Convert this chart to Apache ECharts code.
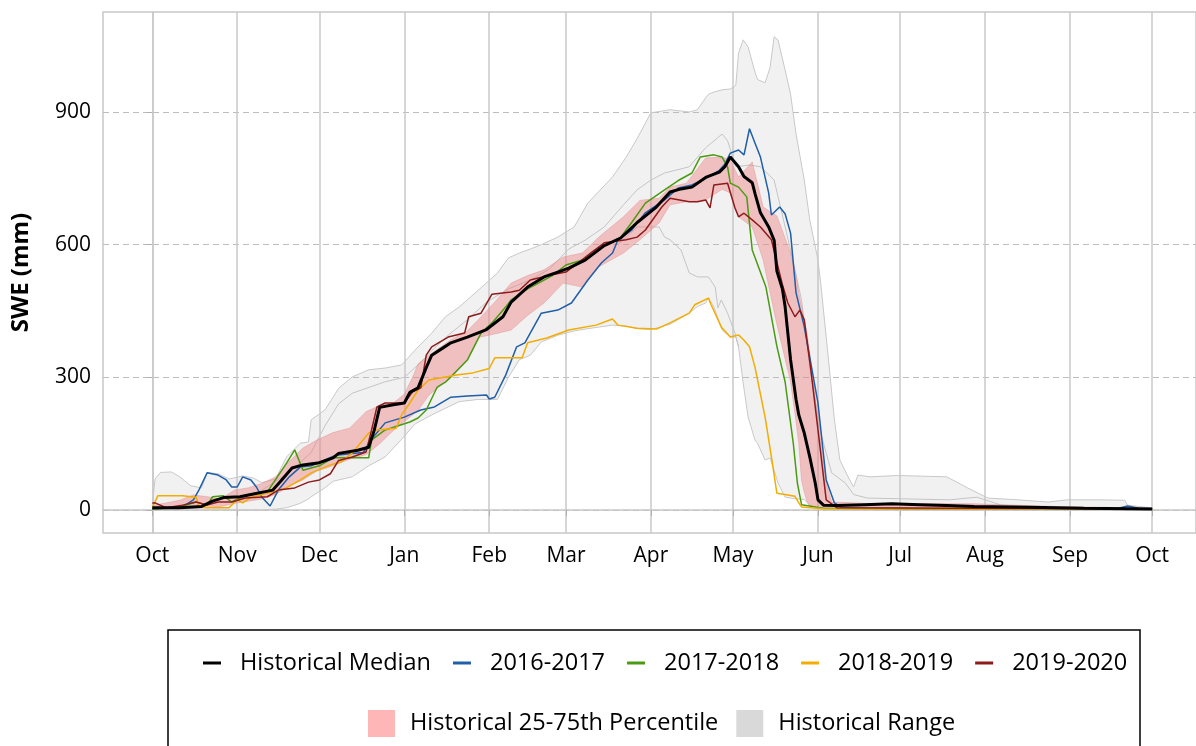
<!DOCTYPE html>
<html>
<head>
<meta charset="utf-8">
<title>SWE</title>
<script src="https://cdn.jsdelivr.net/npm/echarts@6/dist/echarts.min.js"></script>
<style>
  html, body { margin: 0; padding: 0; background: #fff; }
  #chart { width: 1196px; height: 746px; }
</style>
</head>
<body>
<div id="chart"></div>
<script>
// x = day of water year (0 = Oct 1), y = SWE in mm
const monthTicks = [0, 31, 61, 92, 123, 151, 182, 212, 243, 273, 304, 335, 365]
const monthLabels = ['Oct', 'Nov', 'Dec', 'Jan', 'Feb', 'Mar', 'Apr', 'May', 'Jun', 'Jul', 'Aug', 'Sep', 'Oct']
const sweTicks = [0, 300, 600, 900]

// [day, min, max]
const histRange = [
  [0, 0, 10], [1, 0, 70], [3, 0, 85], [7, 0, 86], [10, 0, 75], [14, 0, 55], [18, 0, 50], [20, 0, 85],
  [24, 0, 82], [28, 0, 70], [33, 0, 77], [37, 0, 72], [40, 0, 62], [45, 2, 70], [49, 5, 120], [54, 15, 151],
  [57, 25, 154], [58, 30, 204], [63, 50, 226], [66, 65, 255], [68, 68, 275], [73, 75, 301], [79, 100, 317],
  [85, 120, 321], [91, 160, 328], [96, 195, 362], [102, 215, 400], [107, 230, 437], [112, 245, 459],
  [119, 250, 497], [126, 250, 536], [130, 300, 570], [134, 340, 581], [138, 350, 590], [142, 380, 600],
  [148, 395, 617], [154, 405, 640], [159, 410, 694], [168, 418, 753], [173, 416, 798], [177, 410, 840],
  [182, 408, 898], [189, 420, 905], [196, 445, 900], [199, 460, 905], [202, 468, 932], [203, 480, 940],
  [205, 459, 945], [208, 407, 950], [211, 391, 952], [213, 391, 960], [214, 369, 1033], [215.7, 287, 1063],
  [217.5, 210, 1047], [220, 158, 990], [221, 150, 973], [223.7, 113, 966], [225.5, 118, 1000], [227, 90, 1070],
  [228.4, 61, 1063], [231, 29, 995], [233, 27, 940], [235, 25, 850], [238, 24, 746], [240, 10, 656],
  [243, 3, 565], [244, 2, 513], [246.6, 0, 355], [249, 0, 204], [251, 0, 113], [254, 0, 75], [256, 0, 52],
  [257.6, 0, 79], [262, 0, 75], [272, 0, 78], [290, 0, 75], [297.6, 0, 50], [305, 0, 27], [316, 0, 23],
  [327, 0, 18], [334, 0, 23], [346, 0, 23], [355, 0, 22], [356, 0, 11], [360, 0, 8], [365, 0, 5]
]

// [day, 25th, 75th]
const histPct = [
  [0, 2, 10], [5, 3, 16], [10, 3, 22], [15, 4, 34], [20, 5, 30], [25, 8, 25], [30, 15, 45], [35, 20, 50],
  [40, 25, 60], [45, 35, 75], [50, 55, 110], [55, 68, 140], [60, 88, 158], [66, 100, 175], [72, 115, 185],
  [78, 125, 222], [83, 150, 236], [88, 180, 242], [92, 200, 262], [95, 215, 300], [97, 225, 330],
  [101, 260, 350], [109, 300, 385], [115, 340, 405], [119, 390, 430], [125, 398, 470], [131, 407, 513],
  [137, 440, 530], [143, 468, 543], [150, 513, 572], [157, 504, 581], [163, 550, 617], [172, 581, 663],
  [178, 611, 700], [185, 649, 705], [189, 690, 730], [195, 697, 739], [202, 701, 796], [208, 725, 798],
  [211, 717, 791], [214, 663, 753], [219, 640, 787], [223, 565, 685], [228, 420, 665], [233, 290, 581],
  [235, 200, 530], [236, 150, 491], [237, 68, 460], [238, 40, 430], [239, 20, 400], [240, 10, 355],
  [243, 5, 204], [246, 4, 60], [248, 3, 18], [260, 3, 15], [300, 3, 14], [330, 2, 8], [365, 2, 4]
]

// thin grey lines inside the range
const innerHigh = [
  [40, 45], [50, 85], [58, 130], [63, 190], [68, 240], [73, 264], [85, 290], [92, 300], [97, 328],
  [102, 360], [108, 395], [115, 430], [122, 470], [130, 500], [138, 520], [145, 545], [152, 590],
  [158, 610], [165, 640], [172, 690], [177, 724], [182, 746], [187, 762], [196, 776], [202, 819],
  [208, 850], [210, 835], [213, 776], [218, 780], [222, 776], [227, 746], [233, 588], [237, 475],
  [240, 323], [244, 174], [248, 84], [253, 61], [256, 35], [261, 27], [291, 23], [301, 29], [310, 11],
  [330, 5], [365, 3]
]
const innerLow = [
  [170, 600], [177, 640], [185, 640], [187, 617], [189, 611], [193, 588], [196, 536], [199, 527],
  [203, 527], [205.5, 504], [206.5, 457], [207.7, 475], [210, 445], [212.7, 400], [214, 369]
]

const median = [
  [0, 5], [10, 5], [18, 8], [22, 20], [26, 28], [32, 30], [36, 35], [44, 45], [47, 66], [51, 95], [55, 102],
  [61, 107], [66, 118], [68, 128], [75, 135], [79, 142], [81, 180], [83, 232], [88, 238], [92, 242],
  [94, 266], [97, 276], [100, 322], [102, 350], [106, 366], [109, 378], [115, 391], [122, 408], [128, 437],
  [131, 470], [137, 504], [143, 527], [148, 538], [152, 547], [158, 565], [165, 598], [171, 615],
  [177, 650], [184, 685], [189, 719], [193, 726], [197, 730], [202, 752], [207, 764], [209, 776],
  [211, 798], [214, 776], [216, 754], [219, 740], [220, 716], [222, 672], [225, 640], [227, 610],
  [228, 540], [230, 500], [231, 460], [233, 340], [235, 250], [236, 215], [238, 174], [240, 120],
  [242, 61], [243, 23], [245, 11], [250, 10], [260, 12], [270, 14], [280, 12], [290, 10], [300, 8],
  [320, 6], [340, 4], [365, 2]
]

const wy2017 = [
  [0, 2], [11, 7], [15, 23], [17, 45], [20, 84], [24, 79], [27, 68], [29, 52], [31, 52], [33, 75], [36, 68],
  [38, 52], [40, 29], [43, 9], [46, 45], [50, 75], [54, 97], [58, 100], [63, 113], [67, 124], [72, 127],
  [77, 130], [80, 160], [85, 197], [92, 210], [98, 226], [103, 233], [109, 255], [115, 258], [122, 260],
  [123, 251], [125, 255], [129, 305], [133, 369], [136, 378], [142, 445], [148, 452], [153, 468],
  [159, 520], [164, 559], [168, 581], [170, 611], [175, 633], [180, 672], [187, 701], [192, 728],
  [197, 735], [202, 750], [207, 768], [209, 782], [211, 807], [214, 814], [216, 803], [218, 862],
  [220, 830], [222, 798], [225, 717], [226, 667], [229, 685], [231, 670], [233, 626], [235, 491],
  [238, 414], [243, 242], [246, 68], [249, 16], [252, 5], [280, 3], [320, 3], [352, 3], [356, 9],
  [360, 4], [365, 3]
]

const wy2018 = [
  [0, 2], [9, 5], [16, 18], [20, 11], [22, 30], [26, 32], [29, 18], [34, 34], [42, 41], [49, 106],
  [52, 136], [55, 90], [61, 100], [66, 118], [79, 118], [80, 158], [85, 181], [94, 199], [97, 208],
  [100, 226], [104, 278], [107, 289], [109, 301], [115, 339], [120, 400], [124, 423], [129, 459],
  [131, 475], [137, 500], [141, 513], [146, 530], [151, 554], [158, 567], [165, 598], [171, 617],
  [175, 650], [180, 694], [187, 724], [192, 745], [197, 762], [200, 798], [205, 803], [208, 798],
  [210, 776], [211, 739], [214, 730], [217, 708], [219, 588], [224, 504], [228, 370], [231, 290],
  [234, 150], [235.5, 60], [237, 12], [245, 4], [280, 3], [330, 2], [365, 2]
]

const wy2019 = [
  [0, 5], [2, 32], [11, 32], [16, 29], [17, 7], [20, 5], [28, 5], [31, 23], [33, 16], [36, 29], [44, 41],
  [49, 50], [54, 68], [58, 84], [63, 97], [65, 102], [69, 109], [73, 129], [79, 174], [82, 181], [89, 185],
  [91, 215], [94, 242], [97, 271], [101, 294], [111, 305], [117, 310], [123, 320], [125, 344], [135, 344],
  [137, 378], [144, 389], [152, 407], [162, 418], [168, 432], [170, 418], [177, 411], [184, 409],
  [189, 423], [196, 445], [198, 464], [203, 479], [204, 464], [207.7, 414], [211, 391], [214, 396],
  [216, 384], [218, 369], [220, 323], [223.7, 210], [226, 120], [228, 38], [232, 34], [234.6, 31],
  [236, 16], [237, 7], [245, 3], [300, 2], [365, 2]
]

const wy2020 = [
  [0, 16], [1, 16], [5, 5], [11, 11], [16, 18], [20, 11], [24, 18], [29, 18], [34, 27], [42, 30], [46, 45],
  [52, 50], [57, 63], [61, 68], [65, 82], [68, 112], [73, 120], [78, 131], [80, 180], [82, 233], [85, 242],
  [92, 242], [95, 267], [98, 276], [100, 350], [102, 369], [108, 391], [114, 400], [115.5, 437], [120, 445],
  [124, 488], [131, 493], [134, 497], [138, 520], [145, 531], [151, 538], [155.5, 559], [160, 581],
  [165, 604], [173, 611], [177, 617], [180, 633], [186, 685], [189, 705], [196, 697], [199, 697],
  [202, 701], [203.6, 683], [205, 735], [210, 739], [212.7, 683], [214, 663], [216, 671], [219, 656],
  [222, 640], [226, 611], [228, 560], [230, 510], [232, 468], [234.6, 437], [236.4, 452], [238, 430],
  [240.4, 317], [244, 129], [246, 23], [250, 5], [300, 4], [365, 3]
]

const font = 'Open Sans'

function bandRenderer (rows, fill, edge) {
  return function (params, api) {
    if (params.dataIndex !== 0) return
    const top = rows.map(r => api.coord([r[0], r[2]]))
    const bottom = rows.map(r => api.coord([r[0], r[1]]))
    return {
      type: 'group',
      children: [
        { type: 'polygon', shape: { points: top.concat(bottom.slice().reverse()) }, style: { fill: fill } },
        { type: 'polyline', shape: { points: top }, style: { stroke: edge, fill: null, lineWidth: 1 } },
        { type: 'polyline', shape: { points: bottom }, style: { stroke: edge, fill: null, lineWidth: 1 } }
      ]
    }
  }
}

function yearLine (name, data, color, width, z) {
  return {
    name: name,
    type: 'line',
    data: data,
    z: z,
    symbol: 'none',
    itemStyle: { color: color },
    lineStyle: { color: color, width: width }
  }
}

const chart = echarts.init(document.getElementById('chart'), null, { renderer: 'canvas' })

chart.setOption({
  animation: false,
  textStyle: { fontFamily: font },
  grid: {
    left: 103, top: 12, right: -3, bottom: 213,
    show: true, borderColor: '#c8c8c8', borderWidth: 1.5
  },
  xAxis: {
    type: 'value',
    min: -18,
    max: 381,
    axisLine: { show: true, lineStyle: { color: '#c8c8c8', width: 1.5 } },
    axisTick: { show: true, customValues: monthTicks, length: 6, lineStyle: { color: '#b0b0b0' } },
    axisLabel: {
      customValues: monthTicks,
      margin: 13,
      fontSize: 21,
      color: '#000',
      fontFamily: font,
      formatter: v => monthLabels[monthTicks.indexOf(v)]
    },
    splitLine: { show: true, lineStyle: { color: '#c8c8c8', width: 1.5 } }
  },
  yAxis: {
    type: 'value',
    min: -52,
    max: 1126,
    name: 'SWE (mm)',
    nameLocation: 'middle',
    nameGap: 70,
    nameTextStyle: { fontSize: 24, fontWeight: 'bold', color: '#000', fontFamily: font },
    axisLine: { show: true, lineStyle: { color: '#c8c8c8', width: 1.5 } },
    axisTick: { show: true, customValues: sweTicks, length: 6, lineStyle: { color: '#b0b0b0' } },
    axisLabel: { customValues: sweTicks, margin: 12, fontSize: 21, color: '#000', fontFamily: font },
    splitLine: { show: true, lineStyle: { color: '#bdbdbd', width: 1, type: [6, 4] } }
  },
  legend: [
    {
      left: 198,
      top: 646,
      itemWidth: 18,
      itemHeight: 3,
      itemGap: 22,
      icon: 'rect',
      textStyle: { fontSize: 23.5, color: '#000', fontFamily: font, padding: [0, 0, 0, 14] },
      data: [
        { name: 'Historical Median', itemStyle: { color: '#000' } },
        { name: '2016-2017', itemStyle: { color: '#1f5ea8' } },
        { name: '2017-2018', itemStyle: { color: '#4a9a12' } },
        { name: '2018-2019', itemStyle: { color: '#f2ad00' } },
        { name: '2019-2020', itemStyle: { color: '#8e1b1b' } }
      ]
    },
    {
      left: 363,
      top: 705,
      itemWidth: 27,
      itemHeight: 27,
      itemGap: 18,
      icon: 'rect',
      textStyle: { fontSize: 23.5, color: '#000', fontFamily: font, padding: [0, 0, 0, 10] },
      data: [
        { name: 'Historical 25-75th Percentile', itemStyle: { color: '#ffb6b6' } },
        { name: 'Historical Range', itemStyle: { color: '#d9d9d9' } }
      ]
    }
  ],
  graphic: [
    {
      type: 'rect',
      shape: { x: 168, y: 630, width: 972, height: 140 },
      style: { fill: null, stroke: '#000', lineWidth: 1.5 },
      silent: true
    }
  ],
  series: [
    {
      name: 'Historical Range',
      type: 'custom',
      z: 1,
      itemStyle: { color: '#d9d9d9' },
      data: histRange,
      encode: { x: 0, y: [1, 2] },
      renderItem: bandRenderer(histRange, 'rgba(190,190,190,0.22)', '#c8c8c8')
    },
    {
      name: 'innerHigh',
      type: 'line',
      data: innerHigh,
      z: 2,
      symbol: 'none',
      lineStyle: { color: '#c4c4c4', width: 1 }
    },
    {
      name: 'innerLow',
      type: 'line',
      data: innerLow,
      z: 2,
      symbol: 'none',
      lineStyle: { color: '#c4c4c4', width: 1 }
    },
    {
      name: 'Historical 25-75th Percentile',
      type: 'custom',
      z: 3,
      itemStyle: { color: '#ffb6b6' },
      data: histPct,
      encode: { x: 0, y: [1, 2] },
      renderItem: bandRenderer(histPct, 'rgba(238,125,125,0.42)', 'rgba(225,150,150,0.5)')
    },
    yearLine('2016-2017', wy2017, '#1f5ea8', 1.5, 4),
    yearLine('2017-2018', wy2018, '#4a9a12', 1.5, 4),
    yearLine('2018-2019', wy2019, '#f2ad00', 1.5, 4),
    yearLine('2019-2020', wy2020, '#8e1b1b', 1.5, 4),
    yearLine('Historical Median', median, '#000', 3, 5)
  ]
})
</script>
</body>
</html>
